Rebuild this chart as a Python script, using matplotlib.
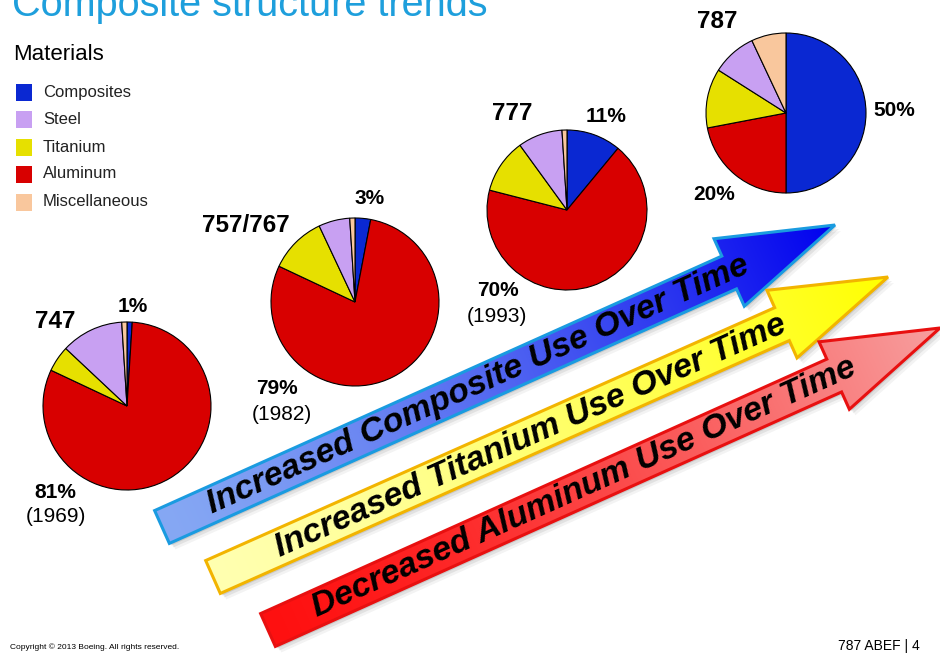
import matplotlib
import numpy as np

matplotlib.use('Agg')
import matplotlib.pyplot as plt
from matplotlib.patches import Polygon, Rectangle
from matplotlib.colors import to_rgb

plt.rcParams['font.family'] = ['Liberation Sans', 'DejaVu Sans']

# --- data ---
materials = ['Composites', 'Steel', 'Titanium', 'Aluminum', 'Miscellaneous']
mat_colors = ['#0a28d2', '#c8a0f2', '#e6e000', '#d80000', '#f9c79d']

aircraft = ['747', '757/767', '777', '787']
years = ['(1969)', '(1982)', '(1993)', '']
# shares in % for each aircraft
composites = [1, 3, 11, 50]
aluminum = [81, 79, 68, 22]
titanium = [5, 11, 11, 12]
steel = [12, 6, 9, 9]
misc = [1, 1, 1, 7]
comp_labels = ['1%', '3%', '11%', '50%']
alu_labels = ['81%', '79%', '70%', '20%']

arrow_texts = ['Increased Composite Use Over Time',
               'Increased Titanium Use Over Time',
               'Decreased Aluminum Use Over Time']

W, H = 940, 655


def Y(y):
    # slide pixels are measured from the top
    return H - y


fig = plt.figure(figsize=(9.4, 6.55), dpi=100)
ax = fig.add_axes([0, 0, 1, 1])

# pies, clockwise from 12 o'clock: composites, aluminum, titanium, steel, misc
centers = [(127, 406), (355, 302), (567, 210), (786, 113)]
radii = [84, 84, 80, 80]
pie_cols = [mat_colors[0], mat_colors[3], mat_colors[2], mat_colors[1], mat_colors[4]]
for i in range(len(aircraft)):
    vals = [composites[i], aluminum[i], titanium[i], steel[i], misc[i]]
    cx, cy = centers[i]
    ax.pie(vals, colors=pie_cols, startangle=90, counterclock=False,
           center=(cx, Y(cy)), radius=radii[i], frame=True,
           wedgeprops=dict(edgecolor='black', linewidth=0.8))

name_pos = [(55, 321), (246, 225), (512, 113), (717, 22)]
comp_pos = [(133, 306), (370, 199), (606, 116), (894, 110)]
alu_pos = [(55, 492), (277, 388), (498, 290), (714, 194)]
year_pos = [(56, 517), (282, 414), (497, 317), None]
for i in range(len(aircraft)):
    ax.text(name_pos[i][0], Y(name_pos[i][1]), aircraft[i], fontsize=17.5,
            fontweight='bold', ha='center', va='center')
    ax.text(comp_pos[i][0], Y(comp_pos[i][1]), comp_labels[i], fontsize=15,
            fontweight='bold', ha='center', va='center')
    ax.text(alu_pos[i][0], Y(alu_pos[i][1]), alu_labels[i], fontsize=15,
            fontweight='bold', ha='center', va='center')
    if years[i]:
        ax.text(year_pos[i][0], Y(year_pos[i][1]), years[i], fontsize=15,
                ha='center', va='center')

# --- big trend arrows ---
arrows = [((162, 527), (835, 225), '#86a8f4', '#0000ee', '#1a9be0'),
          ((213, 577), (888, 277), '#ffffb0', '#ffff00', '#f2b400'),
          ((268, 630), (940, 328), '#ff1010', '#f7a0a0', '#e81010')]
shaft_w, head_w, head_l = 36, 74, 116

yy, xx = np.mgrid[0:H, 0:W] + 0.5
for k, (tail, tip, c0, c1, edge) in enumerate(arrows):
    T = np.array(tail, float)
    P = np.array(tip, float)
    L = np.linalg.norm(P - T)
    u = (P - T) / L
    n = np.array([u[1], -u[0]])  # perpendicular in slide pixels
    B = P - u * head_l
    pts = [T + n * shaft_w / 2, B + n * shaft_w / 2, B + n * head_w / 2, P,
           B - n * head_w / 2, B - n * shaft_w / 2, T - n * shaft_w / 2]
    verts = [(p[0], Y(p[1])) for p in pts]

    # soft shadow
    for off, a in [(2, 0.16), (4, 0.11), (6, 0.07)]:
        ax.add_patch(Polygon([(x + off, y - off) for x, y in verts], closed=True,
                             facecolor='#555555', edgecolor='none', alpha=a, zorder=3))

    # gradient fill along the arrow
    t = np.clip(((xx - T[0]) * u[0] + (yy - T[1]) * u[1]) / L, 0, 1)[..., None] ** 1.35
    img = np.array(to_rgb(c0)) * (1 - t) + np.array(to_rgb(c1)) * t
    clip = Polygon(verts, closed=True, facecolor='none', edgecolor='none', zorder=4)
    ax.add_patch(clip)
    im = ax.imshow(img, extent=(0, W, 0, H), origin='upper', zorder=4,
                   interpolation='bilinear', aspect='auto')
    im.set_clip_path(clip)
    ax.add_patch(Polygon(verts, closed=True, facecolor='none', edgecolor=edge,
                         linewidth=2.2, joinstyle='miter', zorder=5))

    ang = np.degrees(np.arctan2(-(P[1] - T[1]), P[0] - T[0]))
    mid = T + u * L * 0.47
    ax.text(mid[0], Y(mid[1]), arrow_texts[k], rotation=ang, rotation_mode='anchor',
            ha='center', va='center', fontsize=24.5, fontweight='bold',
            fontstyle='italic', zorder=6)

# --- title and legend ---
ax.text(12, Y(16), 'Composite structure trends', color='#1e9fdc', fontsize=28.5,
        va='baseline')
ax.text(13, Y(55), 'Materials', fontsize=16, va='center')
leg_y = [92, 119, 147, 174, 202]
for m, c, ly in zip(materials, mat_colors, leg_y):
    ax.add_patch(Rectangle((16, Y(ly) - 8.5), 16, 17, facecolor=c, edgecolor='none'))
    ax.text(43, Y(ly), m, fontsize=12, va='center', color='#222222')

# footer
ax.text(10, Y(647), 'Copyright \u00a9 2013 Boeing. All rights reserved.', fontsize=6,
        family=['Liberation Sans Narrow', 'Liberation Sans', 'DejaVu Sans'], va='center')
ax.text(920, Y(646), '787 ABEF | 4', fontsize=10, ha='right', va='center',
        family=['Liberation Sans Narrow', 'Liberation Sans', 'DejaVu Sans'])

ax.set_xlim(0, W)
ax.set_ylim(0, H)
ax.set_aspect('auto')
ax.axis('off')
fig.savefig('out.png', dpi=100)
